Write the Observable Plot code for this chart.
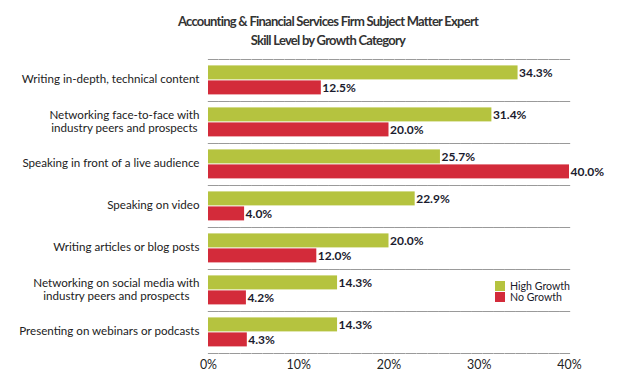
<!DOCTYPE html>
<html><head><meta charset="utf-8">
<script src="https://cdn.jsdelivr.net/npm/d3@7"></script>
<script src="https://cdn.jsdelivr.net/npm/@observablehq/plot@0.6"></script>
<style>
body{margin:0;background:#fff;}
#wrap{position:relative;width:620px;height:382px;font-family:Lato,"Noto Sans",sans-serif;color:#222;}
#title{position:absolute;left:28px;top:12px;width:600px;text-align:center;font-weight:bold;font-size:13px;line-height:19px;color:#333;letter-spacing:-0.75px;}
#chart{position:absolute;left:0;top:46px;}
#legend{position:absolute;left:495px;top:281px;font-size:12.6px;color:#1a1a2a;}
#legend .item{display:flex;align-items:center;height:10.8px;line-height:10.8px;}
#legend .sw{width:10px;height:10px;margin-right:5px;}
</style></head><body>
<div id="wrap">
<div id="title">Accounting &amp; Financial Services Firm Subject Matter Expert<br>Skill Level by Growth Category</div>
<div id="chart"></div>
<div id="legend"></div>
</div>
<script>
const categories = [
  "Writing in-depth, technical content",
  "Networking face-to-face with\nindustry peers and prospects",
  "Speaking in front of a live audience",
  "Speaking on video",
  "Writing articles or blog posts",
  "Networking on social media with\nindustry peers and prospects",
  "Presenting on webinars or podcasts"
];
const series = ["High Growth", "No Growth"];
const highGrowth = [34.3, 31.4, 25.7, 22.9, 20.0, 14.3, 14.3];
const noGrowth = [12.5, 20.0, 40.0, 4.0, 12.0, 4.2, 4.3];
const xTicks = [0, 10, 20, 30, 40];
const colors = ["#b5c33f", "#d32b3a"];

const data = categories.flatMap((c, i) => [
  {category: c, series: series[0], value: highGrowth[i]},
  {category: c, series: series[1], value: noGrowth[i]}
]);

const dash = {stroke: "#9a9a9a", strokeDasharray: "9.5,1.5", strokeWidth: 1.2};

const plot = Plot.plot({
  width: 620, height: 336,
  marginTop: 10, marginBottom: 27, marginLeft: 208, marginRight: 51,
  style: {fontFamily: 'Lato,"Noto Sans",sans-serif', fontSize: "12px", color: "#222", background: "transparent"},
  x: {domain: [0, 40], label: null},
  fy: {domain: categories, padding: 0, label: null},
  y: {domain: series, paddingInner: 0.083, paddingOuter: 0.41, axis: null},
  color: {domain: series, range: colors},
  marks: [
    Plot.frame({anchor: "top", ...dash}),
    Plot.frame({anchor: "bottom", ...dash}),
    Plot.barX(data, {fy: "category", y: "series", x: "value", fill: "series", insetTop: -0.6, insetBottom: 0.6}),
    Plot.text(data, {fy: "category", y: "series", x: "value", text: d => d.value.toFixed(1) + "%",
      textAnchor: "start", dx: 1, fontWeight: "bold", fontSize: 12, fill: "#1b1b2e", style: {letterSpacing: "-0.3px"}}),
    Plot.axisFy({anchor: "left", tickSize: 0, tickPadding: 9, label: null, fontSize: 11.6, lineHeight: 1.2, textAnchor: "end", dy: -1.5, fill: "#222"}),
    Plot.axisX({ticks: xTicks, tickFormat: d => d + "%", tickSize: 0, tickPadding: 7, label: null, fontSize: 12.4, fill: "#222"})
  ]
});
document.getElementById("chart").appendChild(plot);

// center multi-line category labels within their right-aligned block
plot.querySelectorAll("text").forEach(t => {
  const spans = t.querySelectorAll("tspan");
  if (spans.length > 1) {
    let w = 0;
    spans.forEach(s => { w = Math.max(w, s.getComputedTextLength()); });
    t.setAttribute("text-anchor", "middle");
    spans.forEach(s => s.setAttribute("x", -w / 2));
  }
});

const legend = document.getElementById("legend");
series.forEach((s, i) => {
  const it = document.createElement("div");
  it.className = "item";
  it.innerHTML = `<span class="sw" style="background:${colors[i]}"></span><span class="lt">${s}</span>`;
  legend.appendChild(it);
});
const lt = legend.querySelector(".lt");
const lw = lt.getBoundingClientRect().width;
if (lw > 0) legend.style.fontSize = (12.6 * 60 / lw).toFixed(2) + "px";
</script>
</body></html>
